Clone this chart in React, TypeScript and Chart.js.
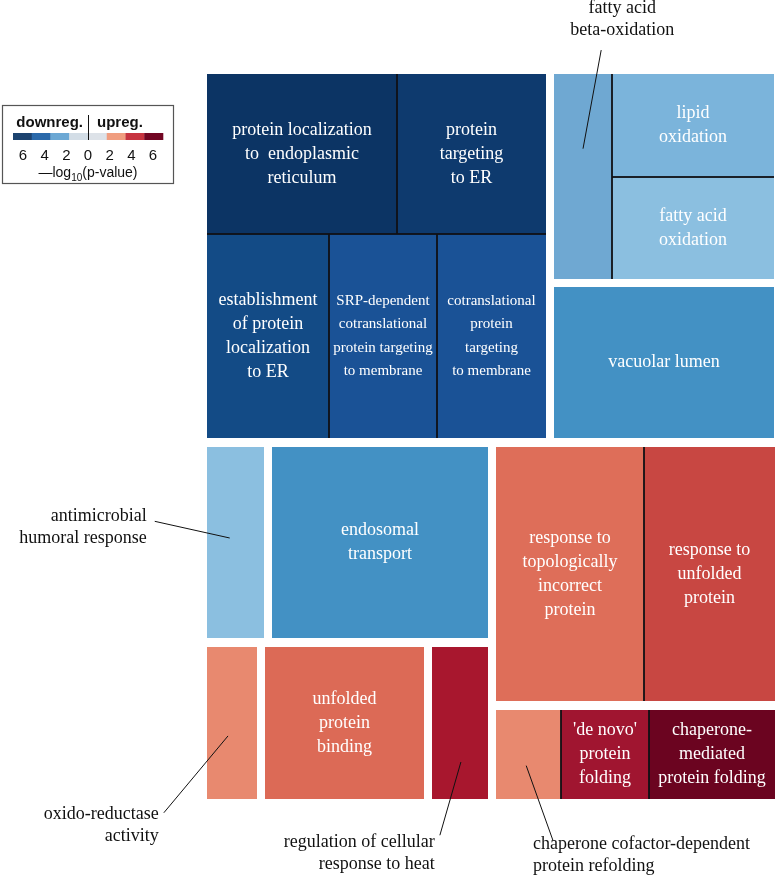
import React, { useEffect, useRef } from 'react';
import { Chart, registerables } from 'chart.js';

Chart.register(...registerables);

// ---- Data (treemap cells, positions in a 0-100 data space) ----
const TERMS = [
  'protein localization to endoplasmic reticulum',
  'protein targeting to ER',
  'establishment of protein localization to ER',
  'SRP-dependent cotranslational protein targeting to membrane',
  'cotranslational protein targeting to membrane',
  'fatty acid beta-oxidation',
  'lipid oxidation',
  'fatty acid oxidation',
  'vacuolar lumen',
  'antimicrobial humoral response',
  'endosomal transport',
  'oxido-reductase activity',
  'unfolded protein binding',
  'regulation of cellular response to heat',
  'response to topologically incorrect protein',
  'response to unfolded protein',
  'chaperone cofactor-dependent protein refolding',
  "'de novo' protein folding",
  'chaperone-mediated protein folding',
];

const CELL_TEXT = [
  'protein localization\nto  endoplasmic\nreticulum',
  'protein\ntargeting\nto ER',
  'establishment\nof protein\nlocalization\nto ER',
  'SRP-dependent\ncotranslational\nprotein targeting\nto membrane',
  'cotranslational\nprotein\ntargeting\nto membrane',
  '',
  'lipid\noxidation',
  'fatty acid\noxidation',
  'vacuolar lumen',
  '',
  'endosomal\ntransport',
  '',
  'unfolded\nprotein\nbinding',
  '',
  'response to\ntopologically\nincorrect\nprotein',
  'response to\nunfolded\nprotein',
  '',
  "'de novo'\nprotein\nfolding",
  'chaperone-\nmediated\nprotein folding',
];

// signed -log10(p-value): negative = downregulated, positive = upregulated
const SCORE = [-6.6, -6.3, -5.4, -5.0, -5.0, -2.4, -2.1, -1.8, -3.2, -1.8, -3.2, 1.9, 2.6, 4.8, 2.5, 3.4, 1.9, 5.0, 6.5];
const GROUP = ['A', 'A', 'A', 'A', 'A', 'B', 'B', 'B', 'C', 'D', 'E', 'F', 'G', 'H', 'I', 'I', 'J', 'J', 'J'];
const X0 = [0, 33.5, 0, 21.5, 40.5, 61.1, 71.3, 71.3, 61.1, 0, 11.4, 0, 10.2, 39.6, 50.9, 76.9, 50.9, 62.3, 77.8];
const X1 = [33.5, 59.7, 21.5, 40.5, 59.7, 71.3, 99.8, 99.8, 99.8, 10.0, 49.5, 8.8, 38.2, 49.5, 76.9, 100, 62.3, 77.8, 100];
const Y0 = [0, 0, 22.1, 22.1, 22.1, 0, 0, 14.2, 29.4, 51.4, 51.4, 79.0, 79.0, 79.0, 51.4, 51.4, 87.7, 87.7, 87.7];
const Y1 = [22.1, 22.1, 50.2, 50.2, 50.2, 28.3, 14.2, 28.3, 50.2, 77.8, 77.8, 100, 100, 100, 86.5, 86.5, 100, 100, 100];

// callouts for cells too small to carry their label
const CALLOUT_TEXT = [
  'fatty acid\nbeta-oxidation',
  'antimicrobial\nhumoral response',
  'oxido-reductase\nactivity',
  'regulation of cellular\nresponse to heat',
  'chaperone cofactor-dependent\nprotein refolding',
];
const CALLOUT_ALIGN = ['center', 'right', 'right', 'right', 'left'];
const CALLOUT_TX = [73.1, -10.6, -8.5, 40.1, 57.4];
const CALLOUT_TY = [-9.1, 61.0, 102.1, 105.9, 106.2];
const CALLOUT_FROM = [[69.4, -3.3], [-9.2, 61.7], [-7.6, 101.9], [41.0, 105.0], [60.9, 105.7]];
const CALLOUT_TO = [[66.2, 10.3], [4.0, 64.0], [3.7, 91.3], [44.7, 94.9], [56.2, 95.4]];

const LEGEND_TICKS = ['6', '4', '2', '0', '2', '4', '6'];

// ---- Styles ----
const COLOR_STOPS: [number, string][] = [
  [-6.6, '#0c3464'], [-6.3, '#0e3a6e'], [-5.4, '#134b86'], [-5.0, '#1a5296'],
  [-3.2, '#4391c4'], [-2.4, '#6fa8d2'], [-2.1, '#7bb4db'], [-1.8, '#8bbfe0'],
  [0, '#dde3ea'], [1.9, '#e8896f'], [2.55, '#dd6c57'], [3.4, '#c84742'],
  [4.8, '#a8172e'], [5.0, '#a01530'], [6.5, '#6b0420'],
];
const LEGEND_COLORS = ['#1c436f', '#2a69aa', '#6ca8d4', '#d3dde6', '#dde2e8', '#f09d7f', '#c73440', '#720623'];
const SMALL_FONT_CELLS = [3, 4];
const SERIF = '"Liberation Serif", "Times New Roman", serif';
const SANS = '"Liberation Sans", Arial, sans-serif';

function hexToRgb(h: string) {
  const n = parseInt(h.slice(1), 16);
  return [(n >> 16) & 255, (n >> 8) & 255, n & 255];
}
function colorFor(v: number) {
  if (v <= COLOR_STOPS[0][0]) return COLOR_STOPS[0][1];
  for (let i = 0; i < COLOR_STOPS.length - 1; i++) {
    const [a, ca] = COLOR_STOPS[i];
    const [b, cb] = COLOR_STOPS[i + 1];
    if (v >= a && v <= b) {
      const t = (v - a) / (b - a);
      const A = hexToRgb(ca), B = hexToRgb(cb);
      const c = A.map((x, k) => Math.round(x + (B[k] - x) * t));
      return `rgb(${c[0]},${c[1]},${c[2]})`;
    }
  }
  return COLOR_STOPS[COLOR_STOPS.length - 1][1];
}

const treemapPlugin = {
  id: 'treemapCells',
  beforeDatasetsDraw(chart: any) {
    const ctx = chart.ctx as CanvasRenderingContext2D;
    const xs = chart.scales.x, ys = chart.scales.y;
    const cells = chart.data.datasets[0].data as any[];
    const px = (v: number) => Math.round(xs.getPixelForValue(v));
    const py = (v: number) => Math.round(ys.getPixelForValue(v));
    ctx.save();
    // fills
    cells.forEach((d) => {
      const l = px(d.x0), r = px(d.x1), t = py(d.y0), b = py(d.y1);
      ctx.fillStyle = colorFor(d.v);
      ctx.fillRect(l, t, r - l, b - t);
    });
    // internal borders within a group
    const bbox: Record<string, number[]> = {};
    cells.forEach((d) => {
      const bb = bbox[d.g] || [Infinity, -Infinity, Infinity, -Infinity];
      bbox[d.g] = [Math.min(bb[0], d.x0), Math.max(bb[1], d.x1), Math.min(bb[2], d.y0), Math.max(bb[3], d.y1)];
    });
    ctx.strokeStyle = 'rgba(15,15,20,0.9)';
    ctx.lineWidth = 1;
    const eps = 0.05;
    cells.forEach((d) => {
      const bb = bbox[d.g];
      const l = px(d.x0), r = px(d.x1), t = py(d.y0), b = py(d.y1);
      ctx.beginPath();
      if (Math.abs(d.x0 - bb[0]) > eps) { ctx.moveTo(l + 0.5, t); ctx.lineTo(l + 0.5, b); }
      if (Math.abs(d.x1 - bb[1]) > eps) { ctx.moveTo(r - 0.5, t); ctx.lineTo(r - 0.5, b); }
      if (Math.abs(d.y0 - bb[2]) > eps) { ctx.moveTo(l, t + 0.5); ctx.lineTo(r, t + 0.5); }
      if (Math.abs(d.y1 - bb[3]) > eps) { ctx.moveTo(l, b - 0.5); ctx.lineTo(r, b - 0.5); }
      ctx.stroke();
    });
    // labels inside cells
    ctx.fillStyle = '#ffffff';
    ctx.textAlign = 'center';
    ctx.textBaseline = 'middle';
    cells.forEach((d, i) => {
      if (!d.text) return;
      const small = SMALL_FONT_CELLS.includes(i);
      const size = small ? 15 : 18;
      const lh = small ? 23.5 : 24;
      ctx.font = `${size}px ${SERIF}`;
      const lines = d.text.split('\n');
      const cx = (px(d.x0) + px(d.x1)) / 2;
      const cy = (py(d.y0) + py(d.y1)) / 2;
      lines.forEach((ln: string, k: number) => {
        ctx.fillText(ln, cx, cy + (k - (lines.length - 1) / 2) * lh);
      });
    });
    ctx.restore();
  },
  afterDraw(chart: any) {
    const ctx = chart.ctx as CanvasRenderingContext2D;
    const xs = chart.scales.x, ys = chart.scales.y;
    ctx.save();
    // callouts
    ctx.strokeStyle = '#111';
    ctx.lineWidth = 1;
    ctx.fillStyle = '#111';
    ctx.font = `18px ${SERIF}`;
    ctx.textBaseline = 'middle';
    CALLOUT_TEXT.forEach((txt, i) => {
      const [fx, fy] = CALLOUT_FROM[i];
      const [tx, ty] = CALLOUT_TO[i];
      ctx.beginPath();
      ctx.moveTo(xs.getPixelForValue(fx), ys.getPixelForValue(fy));
      ctx.lineTo(xs.getPixelForValue(tx), ys.getPixelForValue(ty));
      ctx.stroke();
      ctx.textAlign = CALLOUT_ALIGN[i] as CanvasTextAlign;
      const x = xs.getPixelForValue(CALLOUT_TX[i]);
      const y = ys.getPixelForValue(CALLOUT_TY[i]);
      txt.split('\n').forEach((ln, k) => ctx.fillText(ln, x, y + k * 22));
    });
    // legend
    ctx.strokeStyle = '#555';
    ctx.lineWidth = 1.2;
    ctx.strokeRect(2.5, 105.5, 171, 78);
    ctx.fillStyle = '#111';
    ctx.font = `bold 15px ${SANS}`;
    ctx.textBaseline = 'alphabetic';
    ctx.textAlign = 'right';
    ctx.fillText('downreg.', 83, 127);
    ctx.textAlign = 'left';
    ctx.fillText('upreg.', 97, 127);
    const sw = 150 / LEGEND_COLORS.length;
    LEGEND_COLORS.forEach((c, i) => {
      ctx.fillStyle = c;
      ctx.fillRect(13 + i * sw, 133, sw + 0.3, 7);
    });
    ctx.strokeStyle = '#111';
    ctx.lineWidth = 1;
    ctx.beginPath();
    ctx.moveTo(88.5, 115);
    ctx.lineTo(88.5, 140);
    ctx.stroke();
    ctx.fillStyle = '#111';
    ctx.font = `15px ${SANS}`;
    ctx.textAlign = 'center';
    LEGEND_TICKS.forEach((t, i) => {
      ctx.fillText(t, 23 + i * (130 / 6), 160);
    });
    // —log10(p-value)
    const partA = '\u2014log';
    const partB = '10';
    const partC = '(p-value)';
    ctx.font = `14px ${SANS}`;
    const wA = ctx.measureText(partA).width;
    const wC = ctx.measureText(partC).width;
    ctx.font = `10px ${SANS}`;
    const wB = ctx.measureText(partB).width;
    const total = wA + wB + wC;
    let x0 = 88 - total / 2;
    ctx.textAlign = 'left';
    ctx.font = `14px ${SANS}`;
    ctx.fillText(partA, x0, 177);
    ctx.font = `10px ${SANS}`;
    ctx.fillText(partB, x0 + wA, 181);
    ctx.font = `14px ${SANS}`;
    ctx.fillText(partC, x0 + wA + wB, 177);
    ctx.restore();
  },
};

export default function App() {
  const ref = useRef<HTMLCanvasElement | null>(null);
  useEffect(() => {
    if (!ref.current) return;
    const data = TERMS.map((term, i) => ({
      x: (X0[i] + X1[i]) / 2,
      y: (Y0[i] + Y1[i]) / 2,
      x0: X0[i], x1: X1[i], y0: Y0[i], y1: Y1[i],
      v: SCORE[i], g: GROUP[i], text: CELL_TEXT[i], term,
    }));
    const chart = new Chart(ref.current, {
      type: 'scatter',
      data: { datasets: [{ label: 'GO terms', data: data as any, pointRadius: 0, pointHoverRadius: 0 }] },
      options: {
        animation: false,
        responsive: false,
        events: [],
        layout: { padding: { left: 207, right: 1, top: 74, bottom: 83 } },
        scales: {
          x: { type: 'linear', min: 0, max: 100, display: false },
          y: { type: 'linear', min: 0, max: 100, reverse: true, display: false },
        },
        plugins: { legend: { display: false }, tooltip: { enabled: false } },
      },
      plugins: [treemapPlugin],
    });
    return () => chart.destroy();
  }, []);
  return (
    <div style={{ position: 'absolute', left: 0, top: 0, width: 776, height: 882, background: '#fff' }}>
      <canvas ref={ref} width={776} height={882} style={{ display: 'block', width: 776, height: 882 }} />
    </div>
  );
}
